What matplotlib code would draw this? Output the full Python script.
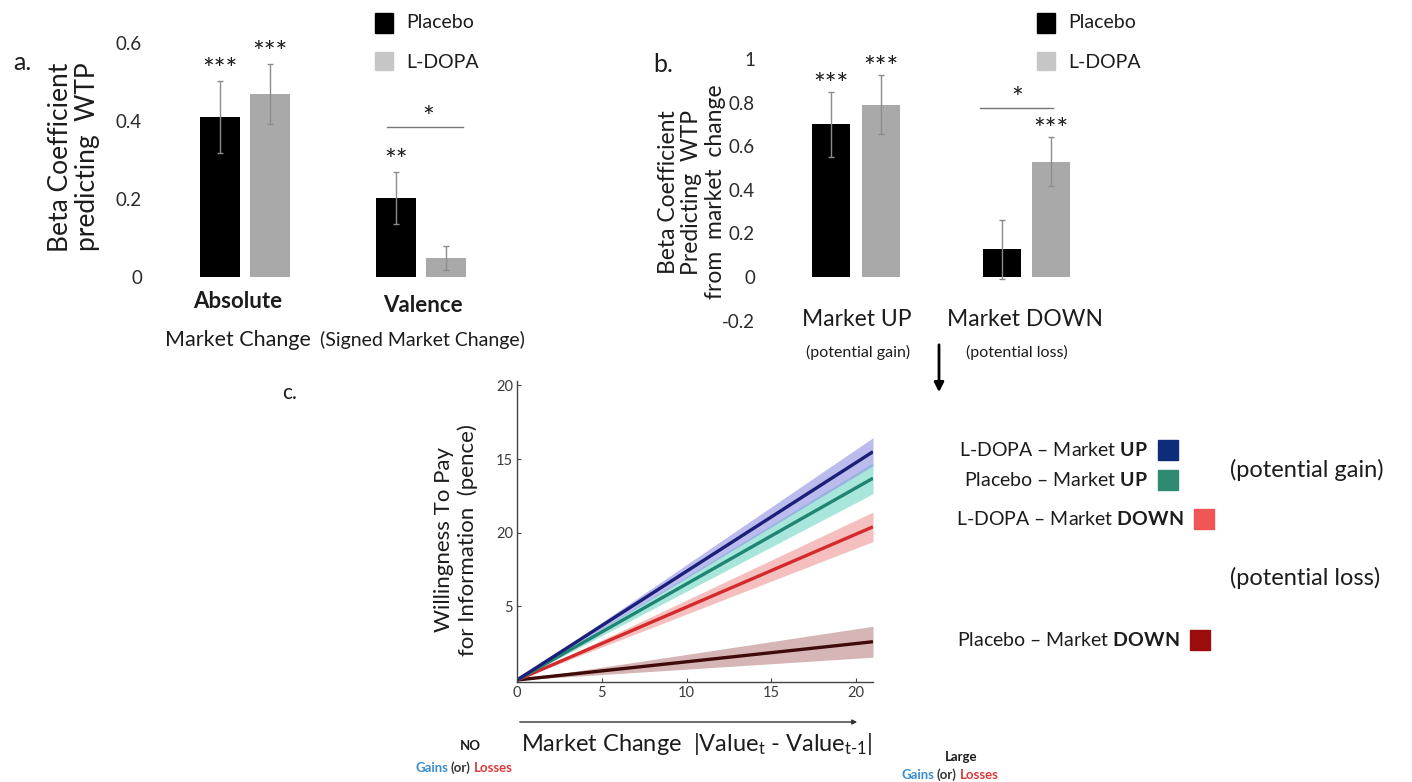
import numpy as np
import matplotlib
matplotlib.use("Agg")
import matplotlib.pyplot as plt
from matplotlib.patches import Rectangle, FancyArrowPatch
from matplotlib.transforms import offset_copy

plt.rcParams["font.family"] = ["Lato", "DejaVu Sans"]
plt.rcParams["mathtext.fontset"] = "custom"
plt.rcParams["mathtext.rm"] = "Lato"
plt.rcParams["mathtext.bf"] = "Lato:bold"
plt.rcParams["mathtext.it"] = "Lato:italic"

# a. beta coefficients predicting WTP (Absolute, Valence)
placebo_a = [0.41, 0.203]
placebo_a_err = [0.093, 0.067]
ldopa_a = [0.469, 0.049]
ldopa_a_err = [0.077, 0.030]
stars_a_placebo = ["***", "**"]
stars_a_ldopa = ["***", ""]

# b. beta coefficients split by market direction (UP, DOWN)
placebo_b = [0.70, 0.127]
placebo_b_err = [0.150, 0.135]
ldopa_b = [0.79, 0.528]
ldopa_b_err = [0.135, 0.112]
stars_b_placebo = ["***", ""]
stars_b_ldopa = ["***", "***"]

# c. fitted WTP lines (end points) and band half widths
market_change = [0, 21]
wtp_ldopa_up = [0, 15.5]
wtp_placebo_up = [0, 13.7]
wtp_ldopa_down = [0, 10.4]
wtp_placebo_down = [0, 2.6]
band_ldopa_up = [0, 0.95]
band_placebo_up = [0, 1.05]
band_ldopa_down = [0, 1.0]
band_placebo_down = [0, 1.05]

W, H = 1412, 782
fig = plt.figure(figsize=(W / 100, H / 100), dpi=100)
TXT = "#1c1c1c"


def fx(x):
    return x / W


def fy(y):
    return 1 - y / H


def axes_px(x0, y0, x1, y1):
    return fig.add_axes([x0 / W, 1 - y1 / H, (x1 - x0) / W, (y1 - y0) / H])


def bar_panel(ax, placebo, p_err, ldopa, l_err, p_stars, l_stars, width, offset, star_dy):
    x = np.arange(len(placebo))
    ekw = dict(ecolor="#8c8c8c", elinewidth=1, capsize=2, capthick=1)
    ax.bar(x - offset, placebo, width, color="black", yerr=p_err, error_kw=ekw)
    ax.bar(x + offset, ldopa, width, color="#a9a9a9", yerr=l_err, error_kw=ekw)
    tr = offset_copy(ax.transData, fig=fig, x=0, y=star_dy, units="dots")
    for i in range(len(placebo)):
        if p_stars[i]:
            ax.text(x[i] - offset, placebo[i] + p_err[i], p_stars[i], transform=tr,
                    ha="center", va="center", fontsize=20, color=TXT)
        if l_stars[i]:
            ax.text(x[i] + offset, ldopa[i] + l_err[i], l_stars[i], transform=tr,
                    ha="center", va="center", fontsize=20, color=TXT)
    for s in ax.spines.values():
        s.set_visible(False)
    ax.set_xticks([])
    ax.tick_params(axis="y", length=0, labelsize=13.5, labelcolor="#2a2a2a")


def legend_pair(x, y_top):
    fig.add_artist(Rectangle((fx(x), fy(y_top + 20)), 18 / W, 20 / H,
                             transform=fig.transFigure, color="black"))
    fig.add_artist(Rectangle((fx(x), fy(y_top + 57)), 18 / W, 18 / H,
                             transform=fig.transFigure, color="#c6c6c6"))
    fig.text(fx(x + 31), fy(y_top + 10), "Placebo", fontsize=14, color=TXT, va="center")
    fig.text(fx(x + 31), fy(y_top + 49), "L-DOPA", fontsize=14, color=TXT, va="center")


# ---- panel a
ax_a = axes_px(150, 30, 500, 290)
bar_panel(ax_a, placebo_a, placebo_a_err, ldopa_a, ldopa_a_err,
          stars_a_placebo, stars_a_ldopa, 0.227, 0.142, 10)
ax_a.set_xlim(-0.540, 1.449)
ax_a.set_ylim(-0.033, 0.633)
ax_a.set_yticks([0, 0.2, 0.4, 0.6])
ax_a.set_yticklabels(["0", "0.2", "0.4", "0.6"])
ax_a.tick_params(axis="y", pad=5.8)
ax_a.plot([1 - 0.193, 1 + 0.239], [0.385, 0.385], color="#777777", lw=1)
ax_a.text(1 + 0.04, 0.405, "*", ha="center", va="center", fontsize=20, color=TXT)

fig.text(fx(22), fy(62), "a.", fontsize=18, color=TXT, ha="center", va="center")
fig.text(fx(74), fy(157), "Beta Coefficient\npredicting  WTP", rotation=90,
         ha="center", va="center", multialignment="center", fontsize=19, color=TXT,
         linespacing=1.15)
fig.text(fx(238), fy(302), "Absolute", fontsize=16, fontweight="bold", color=TXT,
         ha="center", va="center")
fig.text(fx(238), fy(340), "Market Change", fontsize=15.5, color=TXT, ha="center", va="center")
fig.text(fx(423), fy(306), "Valence", fontsize=16, fontweight="bold", color=TXT,
         ha="center", va="center")
fig.text(fx(422), fy(340), "(Signed Market Change)", fontsize=14, color=TXT,
         ha="center", va="center")
legend_pair(375, 13)

# ---- panel b
ax_b = axes_px(762, 40, 1100, 330)
bar_panel(ax_b, placebo_b, placebo_b_err, ldopa_b, ldopa_b_err,
          stars_b_placebo, stars_b_ldopa, 0.223, 0.144, 6)
ax_b.set_xlim(-0.551, 1.431)
ax_b.set_ylim(-0.243, 1.087)
ax_b.set_yticks([-0.2, 0, 0.2, 0.4, 0.6, 0.8, 1])
ax_b.set_yticklabels(["-0.2", "0", "0.2", "0.4", "0.6", "0.8", "1"])
ax_b.tick_params(axis="y", pad=5)
ax_b.plot([1 - 0.273, 1 + 0.155], [0.775, 0.775], color="#777777", lw=1)
ax_b.text(1 - 0.056, 0.81, "*", ha="center", va="center", fontsize=20, color=TXT)

fig.text(fx(663), fy(65), "b.", fontsize=18, color=TXT, ha="center", va="center")
fig.text(fx(692), fy(192), "Beta Coefficient\nPredicting  WTP\nfrom  market  change",
         rotation=90, ha="center", va="center", multialignment="center", fontsize=16.5,
         color=TXT, linespacing=1.12)
fig.text(fx(857), fy(319), "Market UP", fontsize=16.5, color=TXT, ha="center", va="center")
fig.text(fx(858), fy(352), "(potential gain)", fontsize=11.5, color=TXT, ha="center", va="center")
fig.text(fx(1025), fy(319), "Market DOWN", fontsize=16.5, color=TXT, ha="center", va="center")
fig.text(fx(1017), fy(352), "(potential loss)", fontsize=11.5, color=TXT, ha="center", va="center")
legend_pair(1037, 13)

fig.add_artist(FancyArrowPatch((fx(939), fy(342)), (fx(939), fy(395)),
                               transform=fig.transFigure, arrowstyle="-|>",
                               mutation_scale=14, lw=2, color="black"))

# ---- panel c
ax_c = axes_px(517, 381, 873, 681.5)
series = [
    (wtp_placebo_down, band_placebo_down, "#3f0a0a", "#b98585"),
    (wtp_ldopa_down, band_ldopa_down, "#d42a2a", "#f19595"),
    (wtp_placebo_up, band_placebo_up, "#1e8572", "#6fd6c6"),
    (wtp_ldopa_up, band_ldopa_up, "#1b1f78", "#8f8fe3"),
]
for wtp, band, line_col, band_col in series:
    lo = np.array(wtp) - np.array(band)
    hi = np.array(wtp) + np.array(band)
    ax_c.fill_between(market_change, lo, hi, color=band_col, alpha=0.6, lw=0)
for wtp, band, line_col, band_col in series:
    ax_c.plot(market_change, wtp, color=line_col, lw=2.4, solid_capstyle="butt")
ax_c.set_xlim(0, 21)
ax_c.set_ylim(-0.1, 20.3)
ax_c.set_xticks([0, 5, 10, 15, 20])
ax_c.set_yticks([5, 10, 15, 20])
ax_c.set_yticklabels(["5", "20", "15", "20"])
for side in ["top", "right"]:
    ax_c.spines[side].set_visible(False)
for side in ["left", "bottom"]:
    ax_c.spines[side].set_color("#444444")
    ax_c.spines[side].set_linewidth(1)
ax_c.tick_params(direction="in", length=3, labelsize=10.5, labelcolor="#3a3a3a",
                 color="#444444", pad=3)

fig.text(fx(290), fy(393), "c.", fontsize=15, color=TXT, ha="center", va="center")
fig.text(fx(456), fy(540), "Willingness To Pay\nfor Information  (pence)", rotation=90,
         ha="center", va="center", multialignment="center", fontsize=16, color=TXT,
         linespacing=1.15)

fig.add_artist(FancyArrowPatch((fx(517), fy(722)), (fx(860), fy(722)),
                               transform=fig.transFigure, arrowstyle="-|>",
                               mutation_scale=7, lw=1, color="#333333"))
fig.text(fx(697), fy(744),
         r"Market Change  $|\mathrm{Value}_{\mathrm{t}}$ - $\mathrm{Value}_{\mathrm{t\text{-}1}}|$",
         fontsize=17, color=TXT, ha="center", va="center")


def colored_words(x, y, pieces, size=9.5):
    renderer = fig.canvas.get_renderer()
    x = fx(x)
    for text, color in pieces:
        t = fig.text(x, fy(y), text, color=color, fontsize=size, fontweight="bold",
                     ha="left", va="center")
        x += t.get_window_extent(renderer).width / W + 3 / W


fig.text(fx(470), fy(746), "NO", fontsize=9.5, fontweight="bold", color=TXT,
         ha="center", va="center")
colored_words(415, 768, [("Gains", "#3b8ed0"), ("(or)", "#333333"), ("Losses", "#d83a3a")])
fig.text(fx(961), fy(757), "Large", fontsize=9.5, fontweight="bold", color=TXT,
         ha="center", va="center")
colored_words(901, 775, [("Gains", "#3b8ed0"), ("(or)", "#333333"), ("Losses", "#d83a3a")])

# legend for panel c
legend_c = [
    (r"L-DOPA – Market $\mathbf{UP}$", 450, 1148, "#0d2d7a"),
    (r"Placebo – Market $\mathbf{UP}$", 480, 1148, "#2e8b72"),
    (r"L-DOPA – Market $\mathbf{DOWN}$", 519, 1184, "#f25555"),
    (r"Placebo – Market $\mathbf{DOWN}$", 640, 1180, "#9b0c0c"),
]
for label, y, xr, col in legend_c:
    fig.text(fx(xr), fy(y), label, fontsize=14, color=TXT, ha="right", va="center")
    fig.add_artist(Rectangle((fx(xr + 10), fy(y + 10)), 20 / W, 20 / H,
                             transform=fig.transFigure, color=col))
fig.text(fx(1230), fy(470), "(potential gain)", fontsize=17, color=TXT, va="center")
fig.text(fx(1230), fy(578), "(potential loss)", fontsize=17, color=TXT, va="center")

fig.savefig("out.png", dpi=100)
